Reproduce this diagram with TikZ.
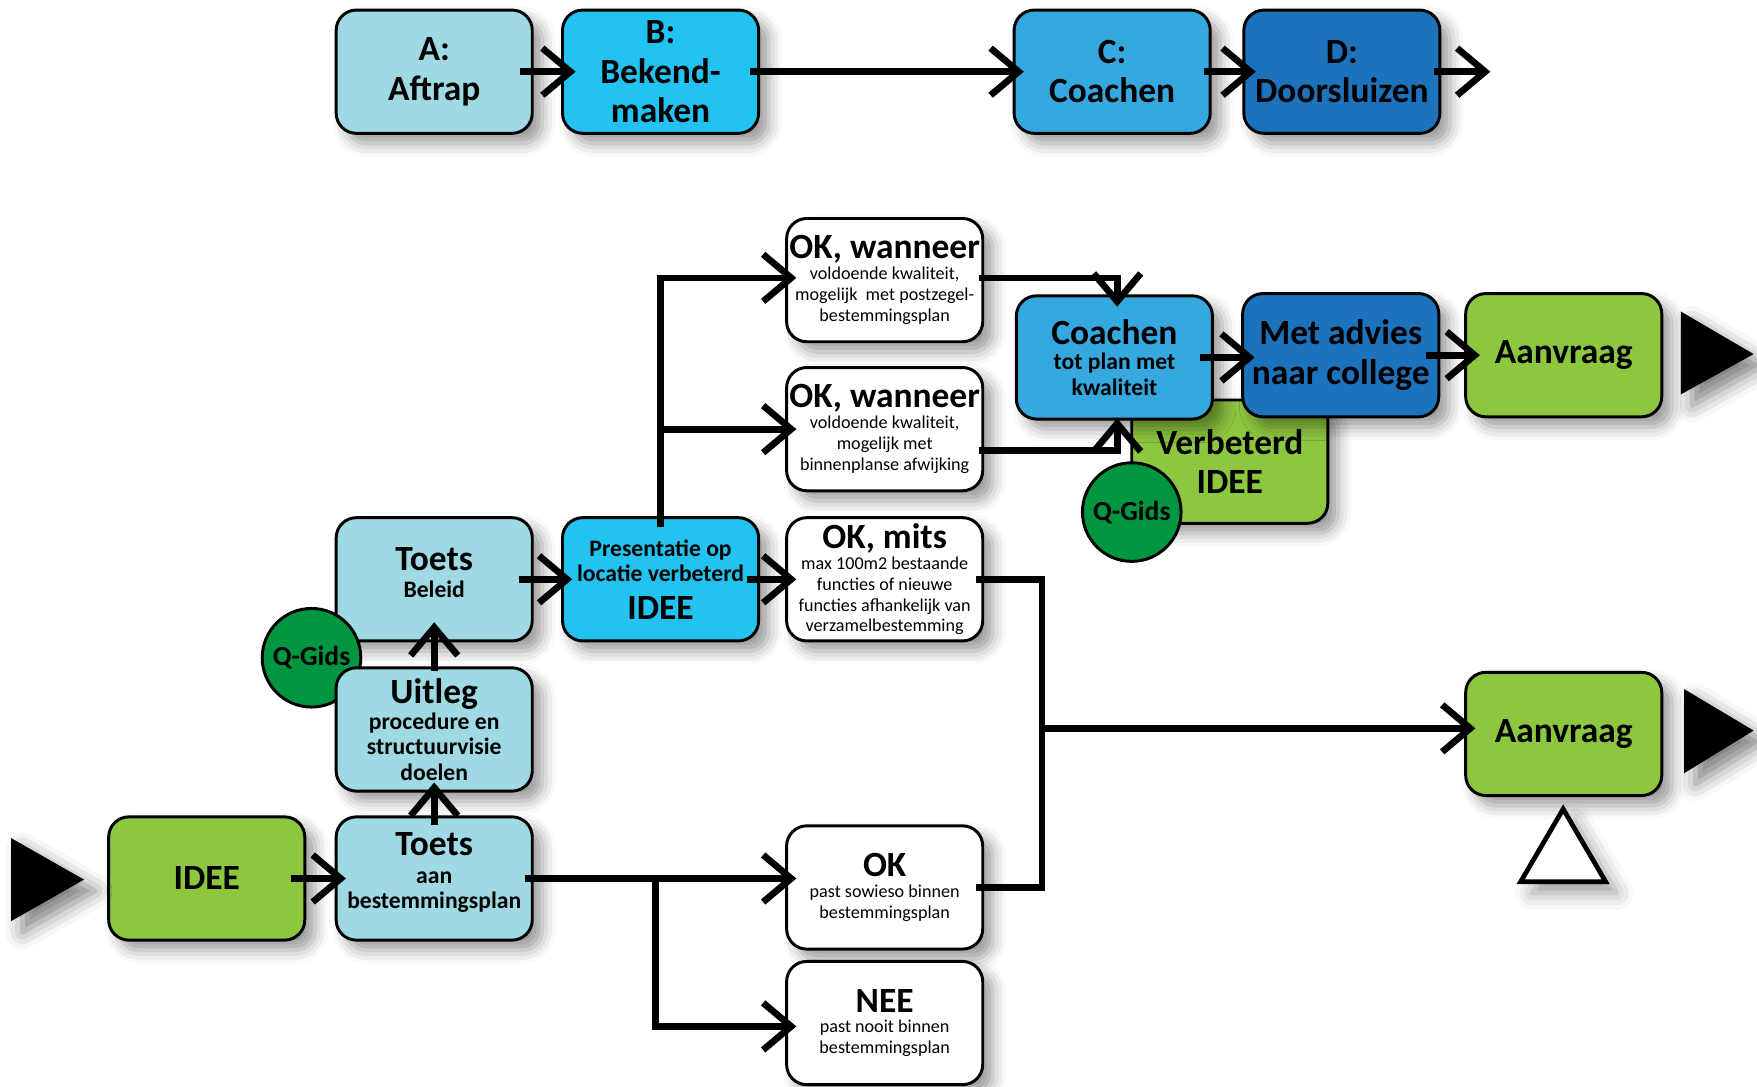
\documentclass[tikz,border=0pt]{standalone}
\usepackage{fontspec}
\setmainfont{Carlito}
\usetikzlibrary{arrows.meta,shadows.blur}
\definecolor{lichtblauw}{HTML}{9FD9E3}
\definecolor{cyaan}{HTML}{22C3F0}
\definecolor{middenblauw}{HTML}{36A8E0}
\definecolor{donkerblauw}{HTML}{1D72BC}
\definecolor{groen}{HTML}{8DC63F}
\definecolor{donkergroen}{HTML}{009540}
\newcommand\tkop[1]{{\fontsize{9}{10}\selectfont\bfseries #1}}

\begin{document}
\begin{tikzpicture}[
		blok/.style={draw=black, line width=0.75pt, rounded corners=1.8mm, minimum width=1.75cm, minimum height=1.1cm, align=center, inner sep=0pt, blur shadow={shadow xshift=0.9mm, shadow yshift=-0.9mm, shadow blur radius=1.2mm, shadow opacity=40}},
		groot/.style={font=\fontsize{9}{10}\selectfont\bfseries},
		midden/.style={font=\fontsize{6}{6.5}\selectfont\bfseries},
		klein/.style={font=\fontsize{4.6}{5.3}\selectfont},
		gids/.style={circle, draw=black, line width=0.75pt, fill=donkergroen, minimum size=0.88cm, inner sep=0pt, font=\fontsize{7}{8}\selectfont\bfseries},
		pijl/.style={line width=1.7pt, -{Straight Barb[length=2.5mm,width=4.2mm]}},
		lijn/.style={line width=1.7pt},
		driehoek/.style={fill=black, blur shadow={shadow xshift=1mm, shadow yshift=-1mm, shadow blur radius=1.5mm, shadow opacity=50}}
	]
		\useasboundingbox (0,0) rectangle (15.68,9.70);

		\node[blok, groot, fill=lichtblauw] (A) at (3.875,9.06) {A:\\Aftrap};
		\node[blok, groot, fill=cyaan] (B) at (5.895,9.06) {B:\\Bekend-\\maken};
		\node[blok, groot, fill=middenblauw] (C) at (9.925,9.06) {C:\\Coachen};
		\node[blok, groot, fill=donkerblauw] (D) at (11.975,9.06) {D:\\Doorsluizen};
		\coordinate (Duit) at (13.30,9.06);

		\node[blok, groot, fill=groen] (idee) at (1.845,1.86) {IDEE};
		\node[blok, midden, fill=lichtblauw] (toetsaan) at (3.875,1.86) {\tkop{Toets}\\[0.5pt]aan\\bestemmingsplan\\[-2.5pt]};
		\node[blok, midden, fill=lichtblauw] (beleid) at (3.875,4.53) {\tkop{Toets}\\[0.5pt]Beleid\\[-3pt]};
		\node[gids] (gids1) at (2.78,3.83) {Q-Gids};
		\node[blok, midden, fill=lichtblauw] (uitleg) at (3.875,3.19) {\tkop{Uitleg}\\procedure en\\structuurvisie\\doelen};
		\node[blok, midden, fill=cyaan] (pres) at (5.895,4.53) {Presentatie op\\locatie verbeterd\\[3pt]\tkop{IDEE}};

		\node[blok, klein, fill=white] (okw1) at (7.895,7.20) {\tkop{OK, wanneer}\\voldoende kwaliteit,\\mogelijk~ met postzegel-\\bestemmingsplan};
		\node[blok, klein, fill=white] (okw2) at (7.895,5.87) {\tkop{OK, wanneer}\\voldoende kwaliteit,\\mogelijk met\\binnenplanse afwijking};
		\node[blok, klein, fill=white] (okmits) at (7.895,4.53) {\tkop{OK, mits}\\max 100m2 bestaande\\functies of nieuwe\\functies afhankelijk van\\verzamelbestemming};
		\node[blok, klein, fill=white] (ok) at (7.895,1.78) {\tkop{OK}\\past sowieso binnen\\bestemmingsplan};
		\node[blok, klein, fill=white] (nee) at (7.895,0.57) {\tkop{NEE}\\past nooit binnen\\bestemmingsplan};

		\node[blok, groot, fill=groen] (verbeterd) at (10.975,5.58) {Verbeterd\\IDEE};
		\node[gids] (gids2) at (10.10,5.13) {Q-Gids};
		\node[blok, midden, fill=middenblauw] (coachen) at (9.945,6.51) {\tkop{Coachen}\\tot plan met\\kwaliteit};
		\node[blok, groot, fill=donkerblauw] (advies) at (11.965,6.53) {Met advies\\naar college};
		\node[blok, groot, fill=groen] (aanvraag1) at (13.955,6.53) {Aanvraag};
		\node[blok, groot, fill=groen] (aanvraag2) at (13.955,3.15) {Aanvraag};

		\fill[driehoek] (0.10,2.22) -- (0.75,1.85) -- (0.10,1.48) -- cycle;
		\fill[driehoek] (15.00,6.92) -- (15.65,6.54) -- (15.00,6.18) -- cycle;
		\fill[driehoek] (15.03,3.55) -- (15.65,3.18) -- (15.03,2.80) -- cycle;
		\draw[line width=1.2pt, fill=white, blur shadow={shadow xshift=1mm, shadow yshift=-1mm, shadow blur radius=1.5mm, shadow opacity=40}] (13.57,1.83) -- (14.33,1.83) -- (13.95,2.48) -- cycle;

		\draw[pijl] ([xshift=-1.2mm]A.east) -- ([xshift=1.3mm]B.west);
		\draw[pijl] ([xshift=-0.9mm]B.east) -- ([xshift=1mm]C.west);
		\draw[pijl] ([xshift=-0.7mm]C.east) -- ([xshift=1.2mm]D.west);
		\draw[pijl] ([xshift=-0.7mm]D.east) -- (Duit);

		\draw[pijl] ([xshift=-1.4mm]idee.east) -- ([xshift=1mm]toetsaan.west);
		\draw[pijl] ([yshift=-0.9mm]toetsaan.north) -- ([yshift=0.9mm]uitleg.south);
		\draw[pijl] ([yshift=-0.4mm]uitleg.north) -- ([yshift=1.8mm]beleid.south);
		\draw[pijl] ([xshift=-1.3mm]beleid.east) -- ([xshift=1mm]pres.west);
		\draw[pijl] ([xshift=-1.2mm]pres.east) -- ([xshift=1mm]okmits.west);
		\draw[pijl] ([yshift=-1mm]pres.north) |- ([xshift=1mm,yshift=0.2mm]okw1.west);
		\draw[pijl] (pres.north |- okw2.west) -- ([xshift=1mm]okw2.west);

		\coordinate (splits) at (5.85,1.86);
		\draw[pijl] ([xshift=-0.8mm]toetsaan.east) -- ([xshift=1mm]toetsaan.east -| ok.west);
		\draw[pijl] (splits) |- ([xshift=1mm,yshift=-0.3mm]nee.west);

		\coordinate (samen) at (9.30,3.20);
		\draw[lijn] ([xshift=-0.7mm]okmits.east) -| (samen) |- ([xshift=-0.7mm]ok.east);
		\draw[pijl] (samen) -- ([xshift=1mm]samen -| aanvraag2.west);

		\draw[pijl] ([xshift=-0.5mm,yshift=0.2mm]okw1.east) -| ([xshift=0.25mm,yshift=-1.1mm]coachen.north);
		\draw[pijl] ([xshift=-0.5mm,yshift=-1.9mm]okw2.east) -| ([xshift=0.25mm,yshift=0.2mm]coachen.south);
		\draw[pijl] ([xshift=-1.2mm]coachen.east) -- ([xshift=1.2mm]coachen.east -| advies.west);
		\draw[pijl] ([xshift=-1.3mm]advies.east) -- ([xshift=1.4mm]aanvraag1.west);
	\end{tikzpicture}
\end{document}
